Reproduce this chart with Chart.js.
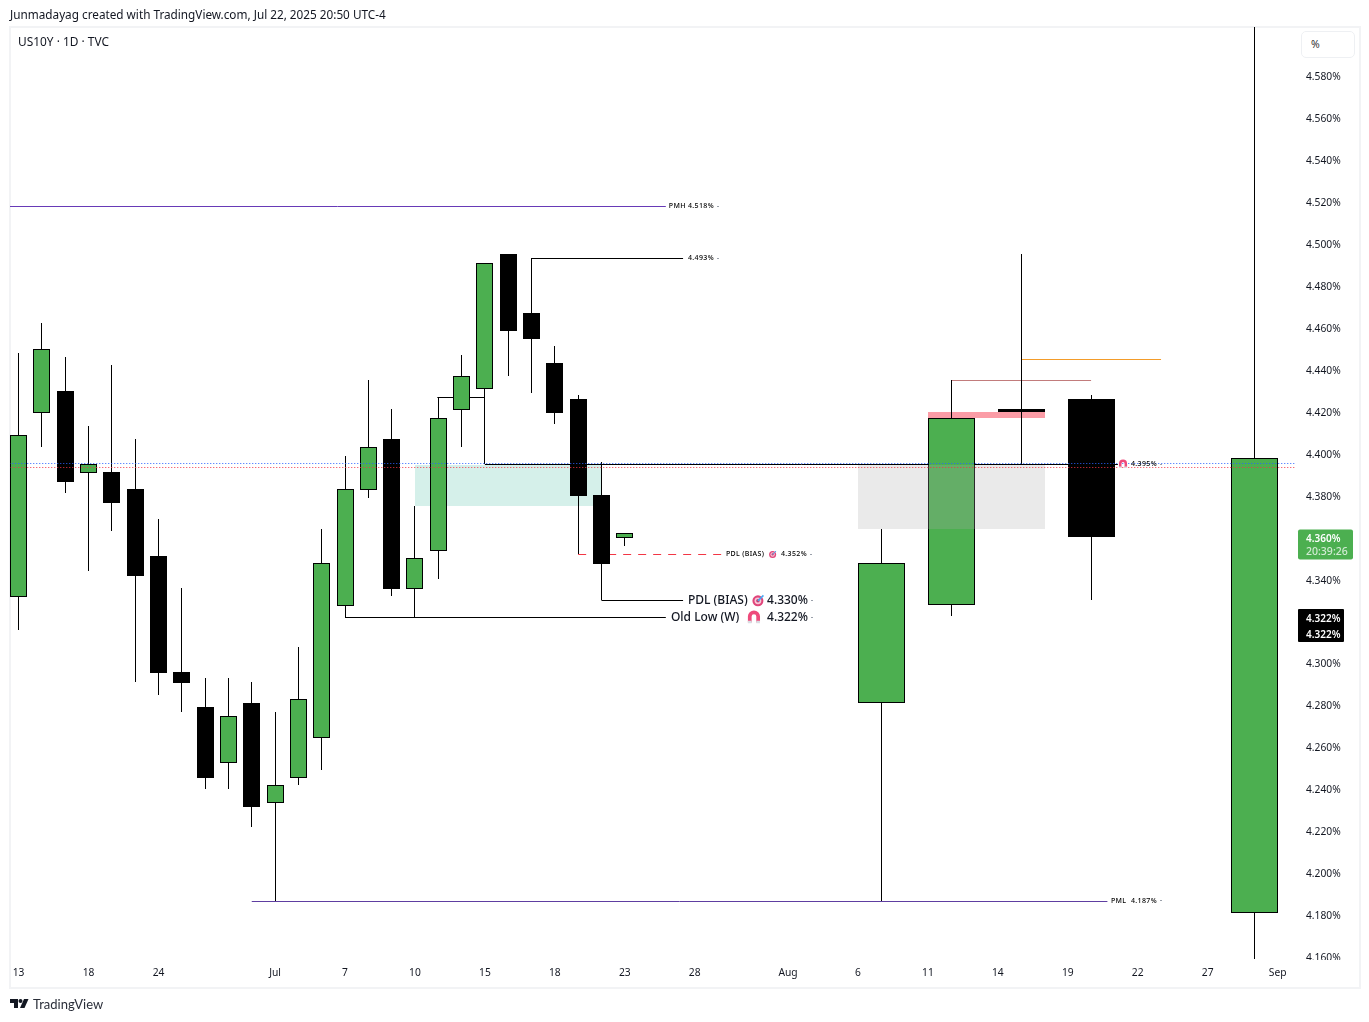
<!DOCTYPE html>
<html><head><meta charset="utf-8">
<script src="https://cdn.jsdelivr.net/npm/chart.js@4"></script>
<style>
html,body{margin:0;padding:0;background:#fff;width:1369px;height:1022px;overflow:hidden;font-family:"Noto Sans",sans-serif;color:#131722}
#frame{position:absolute;left:9px;top:26px;width:1348px;height:959px;border:2px solid #f2f3f5}
canvas{position:absolute;left:0;top:0}
.t{position:absolute;white-space:nowrap}
#unit{position:absolute;left:1301px;top:31px;width:52px;height:25px;border:1px solid #eef0f3;border-radius:5px;font-size:10.5px;line-height:25px;text-indent:9px;color:#333;background:#fff}
</style></head><body>
<div id="frame"></div>
<canvas id="c" width="1369" height="1022"></canvas>
<div class="t" style="left:10px;top:6px;font-size:11.75px;line-height:16px">Junmadayag created with TradingView.com, Jul 22, 2025 20:50 UTC-4</div>
<div class="t" style="left:18px;top:33px;font-size:11.9px;line-height:16px">US10Y · 1D · TVC</div>
<div id="unit">%</div>
<svg style="position:absolute;left:10px;top:999px" width="20" height="10" viewBox="0 0 20 10"><path d="M0 0h8v9H4V4H0z" fill="#131722"/><circle cx="10.5" cy="2" r="2" fill="#131722"/><path d="M10 9l4-9h4.500l-4 9z" fill="#131722"/></svg>
<div class="t" style="left:33px;top:995px;font-family:Lato,sans-serif;font-size:13px;line-height:18px;color:#2a2e39">TradingView</div>
<script>
// Daily candles (slot index on the time axis)
const dayIdx   = [0,1,2,3,4,5,6,7,8,9,10,11,12,13,14,15,16,17,18,19,20,21,22,23,24,25,26];
const dayOpen  = [4.3318,4.4195,4.4298,4.3909,4.3912,4.3831,4.3512,4.2959,4.2792,4.2526,4.2811,4.2334,4.2453,4.2644,4.3275,4.3828,4.4069,4.3356,4.3537,4.4209,4.4309,4.4951,4.4670,4.4432,4.4260,4.3802,4.3599];
const dayClose = [4.4088,4.4498,4.3864,4.3949,4.3764,4.3416,4.2954,4.2906,4.2453,4.2749,4.2315,4.2420,4.2830,4.3478,4.3831,4.4031,4.3354,4.3502,4.4170,4.4370,4.4908,4.4584,4.4546,4.4193,4.3798,4.3474,4.3621];
const dayHigh  = [4.4479,4.4622,4.4460,4.4131,4.4422,4.4069,4.3688,4.3359,4.2930,4.2930,4.2911,4.2768,4.3078,4.3640,4.3988,4.4351,4.4212,4.3750,4.4267,4.4470,4.4908,4.4951,4.4932,4.4513,4.4279,4.3960,4.3621];
const dayLow   = [4.3159,4.4033,4.3813,4.3442,4.3632,4.2911,4.2850,4.2768,4.2401,4.2401,4.2220,4.1866,4.2420,4.2491,4.3222,4.3788,4.3321,4.3222,4.3402,4.4031,4.3950,4.4370,4.4289,4.4141,4.3521,4.3302,4.3559];
// Wide candles on the right
const wideIdx   = [37,40,43,46,53];
const wideOpen  = [4.2811,4.3278,4.4212,4.4260,4.1812];
const wideClose = [4.3478,4.4170,4.4198,4.3602,4.3979];
const wideHigh  = [4.3640,4.4351,4.4951,4.4279,4.6200];
const wideLow   = [4.1866,4.3226,4.3950,4.3302,4.1500];
// Axis ticks
const timeTickIdx    = [0,3,6,11,14,17,20,23,26,29,33,36,39,42,45,48,51,54];
const timeTickLabels = ["13","18","24","Jul","7","10","15","18","23","28","Aug","6","11","14","19","22","27","Sep"];
const priceTicks = [4.58,4.56,4.54,4.52,4.50,4.48,4.46,4.44,4.42,4.40,4.38,4.34,4.30,4.28,4.26,4.24,4.22,4.20,4.18,4.16];
// Horizontal levels [fromIdx, toIdx, price]
const levelPMH   = [-0.4,27.76,4.5178];
const level4493  = [22,28.5,4.4930];
const levelStep  = [17.96,20,4.4267];
const level4395  = [20,47.15,4.3948];
const levelDash  = [24,30.15,4.3519];
const levelPDL   = [25,28.5,4.3300];
const levelOld   = [14,27.76,4.3218];
const levelPML   = [10,46.7,4.1865];
const levelRose  = [40,46,4.4348];
const levelAmber = [43,49,4.4448];
const dotBlue    = 4.3953;
const dotRed     = 4.3934;
// Zones [fromIdx, toIdx, top, bottom]
const zoneTeal = [17,25,4.3947,4.3750];
const zoneGrey = [36,44.02,4.3947,4.3640];
const zonePink = [39,44.02,4.4198,4.4170];

const UP='#4caf50', INK='#000000';
const pick=(idx,o,c,test)=>idx.map((x,i)=>({x,y:[o[i],c[i]],keep:test(o[i],c[i])})).filter(d=>d.keep);
const wicks=(idx,h,l)=>idx.map((x,i)=>({x,y:[l[i],h[i]]}));
const up=(o,c)=>c>=o, down=(o,c)=>c<o;
const bar=(data,thick,bg,bc,order)=>({type:'bar',data,barThickness:thick,grouped:false,backgroundColor:bg,borderColor:bc,borderWidth:thick>1?1:0,borderSkipped:false,inflateAmount:0,order});
const line=(l,color,width,order,dash)=>({type:'line',data:[{x:l[0],y:l[2]},{x:l[1],y:l[2]}],borderColor:color,borderWidth:width,pointRadius:0,borderDash:dash||[],order,snapLine:true,tension:0,fill:false});
const zone=(z,color,order)=>[
 {type:'line',data:[{x:z[0],y:z[2]},{x:z[1],y:z[2]}],borderWidth:0,pointRadius:0,backgroundColor:color,fill:'+1',order,snapEdge:true},
 {type:'line',data:[{x:z[0],y:z[3]},{x:z[1],y:z[3]}],borderWidth:0,pointRadius:0,fill:false,order,snapEdge:true}];

const datasets=[
 ...zone(zoneTeal,'#d5f0ea',12),
 ...zone(zonePink,'#fb9ca6',12),
 line(levelPMH,'#673ab7',1,8),
 line(levelPML,'#5e3ea1',1,8),
 line(level4493,'#000',1,8),
 line(levelStep,'#000',1,8),
 line(level4395,'#000',1,8),
 line(levelPDL,'#000',1,8),
 line(levelOld,'#000',1,8),
 line(levelRose,'#c27c7c',1,8),
 line(levelAmber,'#f39c2a',1,8),
 line(levelDash,'#f23645',1,8,[8,7]),
 bar(wicks(dayIdx,dayHigh,dayLow),1,INK,INK,6),
 bar(wicks(wideIdx,wideHigh,wideLow),1,INK,INK,6),
 bar(pick(dayIdx,dayOpen,dayClose,up),17,UP,INK,4),
 bar(pick(dayIdx,dayOpen,dayClose,down),17,INK,INK,4),
 bar(pick(wideIdx,wideOpen,wideClose,up),47,UP,INK,4),
 bar(pick(wideIdx,wideOpen,wideClose,down),47,INK,INK,4),
 ...zone(zoneGrey,'rgba(171,171,171,0.25)',2),
 line([-0.4,54.75,dotBlue],'#2962ff',1,1,[1,2]),
 line([-0.4,54.75,dotRed],'#f23645',1,1,[1,2]),
];

const FONT='"Noto Sans",sans-serif';
const labels=[
 ["PMH 4.518%",27.89,4.5178,7,500],
 ["4.493%",28.71,4.4930,7,500],
 ["PDL (BIAS)",30.34,4.3519,7,500],
 ["4.352%",32.70,4.3519,7,500],
 ["4.395%",47.71,4.3950,7,500],
 ["PML",46.85,4.1868,7,500],
 ["4.187%",47.71,4.1868,7,500],
 ["PDL (BIAS)",28.71,4.3298,12,500],
 ["4.330%",32.10,4.3298,12,500],
 ["Old Low (W)",27.98,4.3220,12,500],
 ["4.322%",32.10,4.3220,12,500],
];
const targets=[[32.34,4.3519,3.5],[31.71,4.3298,5.5]];
const magnets=[[47.37,4.3950,4],[31.54,4.3220,6]];
const tailMarks=[[29.96,4.5178],[29.96,4.4930],[33.94,4.3519],[48.96,4.3950],[48.96,4.1868],[33.99,4.3298],[33.99,4.3220]];

const overlay={id:'overlay',
 afterDatasetsUpdate(chart){
  chart.data.datasets.forEach((ds,i)=>{
   const m=chart.getDatasetMeta(i);
   m.data.forEach(el=>{
    if(ds.type==='bar'){el.x=Math.floor(el.x)+.5;el.y=Math.round(el.y);el.base=Math.round(el.base);}
    else if(ds.snapLine){el.y=Math.floor(el.y)+.5;}
    else if(ds.snapEdge){el.x=Math.round(el.x);el.y=Math.round(el.y);}
   });
  });
 },
 afterDraw(chart){
  const {ctx,scales:{x,y}}=chart;
  ctx.save();
  ctx.textBaseline='middle';ctx.textAlign='left';
  for(const [t,i,p,s,w] of labels){
   ctx.font=`${w} ${s}px ${FONT}`;ctx.letterSpacing=s<10?'0.35px':'0px';ctx.fillStyle=s<10?'#000':'#131722';
   ctx.fillText(t,x.getPixelForValue(i),y.getPixelForValue(p));
  }
  ctx.letterSpacing='0px';
  ctx.fillStyle='#9aa0aa';
  for(const [i,p] of tailMarks){ctx.fillRect(Math.round(x.getPixelForValue(i)),Math.floor(y.getPixelForValue(p)),2,1);}
  for(const [i,p,r] of targets){
   const cx=x.getPixelForValue(i),cy=y.getPixelForValue(p);
   ctx.fillStyle='#e0457b';ctx.beginPath();ctx.arc(cx,cy,r,0,7);ctx.fill();
   ctx.fillStyle='#f7c6d6';ctx.beginPath();ctx.arc(cx,cy,r*.62,0,7);ctx.fill();
   ctx.fillStyle='#c43a6c';ctx.beginPath();ctx.arc(cx,cy,r*.32,0,7);ctx.fill();
   ctx.strokeStyle='#4aa8f0';ctx.lineWidth=r>4?1.6:1;ctx.beginPath();ctx.moveTo(cx,cy);ctx.lineTo(cx+r,cy-r);ctx.stroke();
  }
  for(const [i,p,r] of magnets){
   const cx=x.getPixelForValue(i),cy=y.getPixelForValue(p);
   ctx.strokeStyle='#ee4a7b';ctx.lineWidth=r*.62;ctx.beginPath();
   ctx.moveTo(cx-r*.7,cy+r*.9);ctx.lineTo(cx-r*.7,cy-r*.1);ctx.arc(cx,cy-r*.1,r*.7,Math.PI,0);ctx.lineTo(cx+r*.7,cy+r*.9);ctx.stroke();
   ctx.strokeStyle='#d9dde3';ctx.beginPath();
   ctx.moveTo(cx-r*.7,cy+r*.6);ctx.lineTo(cx-r*.7,cy+r);ctx.moveTo(cx+r*.7,cy+r*.6);ctx.lineTo(cx+r*.7,cy+r);ctx.stroke();
  }
  // clip the lowest price label at the pane edge
  ctx.fillStyle='#fff';ctx.fillRect(y.left+5,y.bottom+1,55,6);
  // price tags on the axis
  const tagL=y.left+3;
  const pGreen=y.getPixelForValue(4.3598), pBlack=y.getPixelForValue(4.3218);
  ctx.fillStyle=UP;ctx.beginPath();ctx.roundRect(tagL,pGreen-8.5,55,30,2);ctx.fill();
  ctx.fillStyle=INK;ctx.beginPath();ctx.roundRect(tagL,pBlack-8.5,46,33,1);ctx.fill();
  ctx.font=`600 10px ${FONT}`;ctx.fillStyle='#fff';
  ctx.fillText('4.360%',tagL+8,pGreen+1);
  ctx.fillText('4.322%',tagL+8,pBlack+1.5);
  ctx.fillText('4.322%',tagL+8,pBlack+17.5);
  ctx.font=`500 10.5px ${FONT}`;ctx.fillStyle='rgba(255,255,255,.75)';
  ctx.fillText('20:39:26',tagL+8,pGreen+14);
  ctx.restore();
 }
};

new Chart(document.getElementById('c'),{
 data:{datasets},
 plugins:[overlay],
 options:{
  responsive:false,animation:false,events:[],
  layout:{autoPadding:false,padding:{left:10,right:9,top:27,bottom:35}},
  plugins:{legend:{display:false},tooltip:{enabled:false},title:{display:false}},
  scales:{
   x:{type:'linear',offset:false,min:-0.36886,max:54.7459,
    grid:{display:false},border:{display:false},
    afterBuildTicks(a){a.ticks=timeTickIdx.map(value=>({value}));},
    afterFit(a){a.height=28;},
    ticks:{autoSkip:false,maxRotation:0,includeBounds:false,padding:0,color:'#131722',font:{family:FONT,size:10.25},
     callback(v){const i=timeTickIdx.indexOf(v);return i<0?'':timeTickLabels[i];}}},
   y:{type:'linear',position:'right',min:4.15905,max:4.60336,
    grid:{display:false},border:{display:false},
    afterBuildTicks(a){a.ticks=priceTicks.map(value=>({value}));},
    afterFit(a){a.width=65;},
    ticks:{autoSkip:false,padding:3,labelOffset:1.2,color:'#131722',font:{family:FONT,size:10.25},
     callback(v){return v.toFixed(3)+'%';}}}
  }
 }
});
</script>
</body></html>
